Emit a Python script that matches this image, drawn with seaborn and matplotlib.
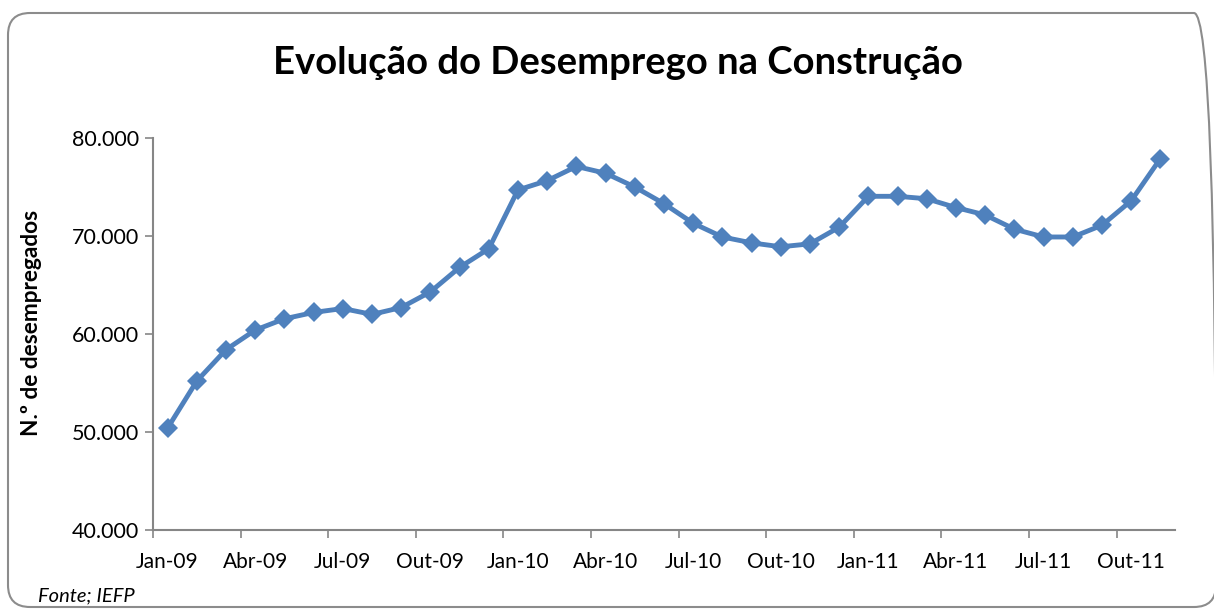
import matplotlib
matplotlib.use('Agg')
import matplotlib.pyplot as plt
import matplotlib.ticker as mticker
from matplotlib.patches import FancyBboxPatch
from matplotlib.transforms import IdentityTransform
import numpy as np
import pandas as pd
import seaborn as sns

# Dados (leitura do gráfico)
meses = ['Jan-09', 'Fev-09', 'Mar-09', 'Abr-09', 'Mai-09', 'Jun-09', 'Jul-09', 'Ago-09',
         'Set-09', 'Out-09', 'Nov-09', 'Dez-09', 'Jan-10', 'Fev-10', 'Mar-10', 'Abr-10',
         'Mai-10', 'Jun-10', 'Jul-10', 'Ago-10', 'Set-10', 'Out-10', 'Nov-10', 'Dez-10',
         'Jan-11', 'Fev-11', 'Mar-11', 'Abr-11', 'Mai-11', 'Jun-11', 'Jul-11', 'Ago-11',
         'Set-11', 'Out-11', 'Nov-11']
desempregados = [50400, 55200, 58400, 60400, 61550, 62200, 62600, 62000,
                 62700, 64300, 66800, 68700, 74700, 75650, 77100, 76400,
                 75000, 73300, 71300, 69900, 69300, 68900, 69200, 70900,
                 74050, 74050, 73800, 72900, 72150, 70700, 69900, 69900,
                 71100, 73600, 77900]
titulo = 'Evolução do Desemprego na Construção'
rotulo_y = 'N.º de desempregados'
fonte = 'Fonte; IEFP'

df = pd.DataFrame({'pos': np.arange(len(meses)), 'valor': desempregados})

sns.set_style('white')
plt.rcParams['font.family'] = ['Lato', 'DejaVu Sans']
plt.rcParams['text.color'] = 'black'
plt.rcParams['xtick.color'] = 'black'
plt.rcParams['ytick.color'] = 'black'
plt.rcParams['axes.labelcolor'] = 'black'

fig = plt.figure(figsize=(12.14, 6.10), dpi=100)
ax = fig.add_axes([153 / 1214, 1 - 530 / 610, (1175 - 153) / 1214, (530 - 138) / 610])

sns.lineplot(data=df, x='pos', y='valor', ax=ax, color='#4F81BD', linewidth=3.5,
             marker='D', markersize=10, markeredgewidth=0)

ax.set_xlim(-0.5, len(meses) - 0.5)
ax.set_ylim(40000, 80000)

# eixo y
ax.yaxis.set_major_locator(mticker.MultipleLocator(10000))
ax.yaxis.set_major_formatter(mticker.FuncFormatter(lambda v, p: f'{int(v):,}'.replace(',', '.')))
ax.tick_params(axis='y', which='major', length=6, width=1.2, color='#868686',
               labelsize=15.5, pad=4, direction='out', left=True)

# eixo x: marcas entre categorias, rótulos a cada 3 meses
ax.set_xticks(np.arange(-0.5, len(meses) - 1, 3))
ax.set_xticklabels([])
ax.set_xticks(np.arange(0, len(meses), 3), minor=True)
ax.set_xticklabels(meses[::3], minor=True)
ax.tick_params(axis='x', which='major', length=6, width=1.2, color='#868686',
               direction='out', bottom=True)
ax.tick_params(axis='x', which='minor', length=0, labelsize=15, pad=16)

for s in ['top', 'right']:
    ax.spines[s].set_visible(False)
for s in ['left', 'bottom']:
    ax.spines[s].set_color('#868686')
    ax.spines[s].set_linewidth(1.5)

ax.set_xlabel('')
ax.set_ylabel(rotulo_y, fontsize=16.3, fontweight='bold')
ax.yaxis.set_label_coords(-0.109, 0.528)

fig.text(0.509, 0.897, titulo, ha='center', va='center', fontsize=27.5, fontweight='bold')
fig.text(38 / 1214, 1 - 596 / 610, fonte, ha='left', va='center', fontsize=14.5, style='italic')

# moldura arredondada (em pixels)
moldura = FancyBboxPatch((8, 3), 1208, 594,
                         boxstyle='round,pad=0,rounding_size=22',
                         transform=IdentityTransform(), fill=False, edgecolor='#8C8C8C',
                         linewidth=1.5, clip_on=False)
fig.patches.append(moldura)

fig.savefig('out.png', dpi=100)
